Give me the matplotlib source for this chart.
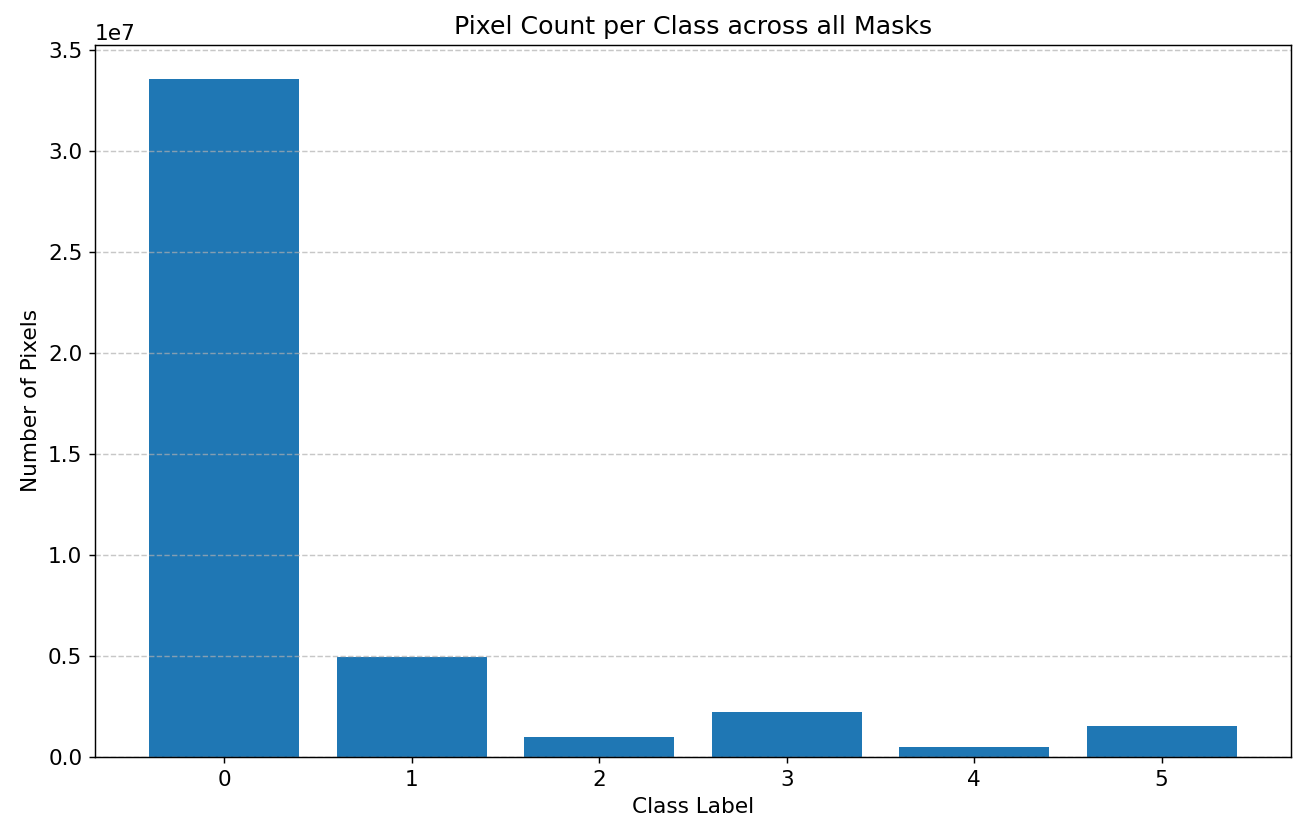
import numpy as np
import matplotlib
matplotlib.use("agg")
import matplotlib.pyplot as plt

plt.rc('font', size=12)

# pixel counts per class label
class_labels = [0, 1, 2, 3, 4, 5]
pixel_counts = [33.55e6, 4.95e6, 0.98e6, 2.23e6, 0.475e6, 1.54e6]

W, H, DPI = 1310, 830, 130
fig = plt.figure(figsize=(W / DPI, H / DPI), dpi=DPI)
ax = fig.add_axes([95 / W, (H - 757) / H, (1291 - 95) / W, (757 - 45) / H])

ax.bar(class_labels, pixel_counts, color='#1f77b4')
ax.set_xticks(class_labels)
ax.set_xlabel('Class Label')
ax.set_ylabel('Number of Pixels')
ax.set_title('Pixel Count per Class across all Masks', fontsize=14)
ax.grid(axis='y', linestyle='--', alpha=0.7)

fig.savefig('out.png', dpi=DPI)
